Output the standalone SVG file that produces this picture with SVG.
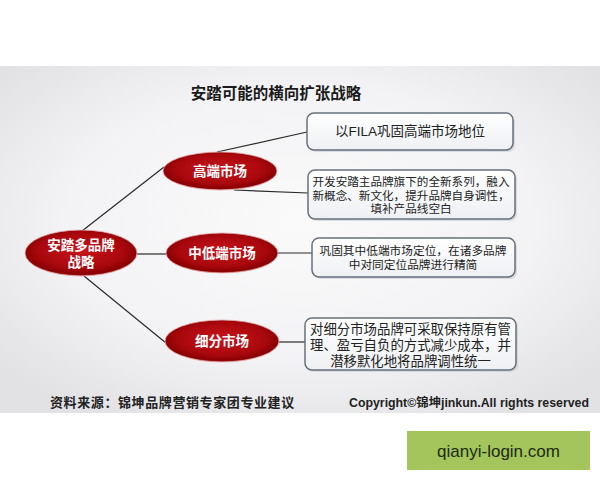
<svg xmlns="http://www.w3.org/2000/svg" width="600" height="480" viewBox="0 0 600 480">
<defs>
<radialGradient id="bg" cx="50%" cy="45%" r="65%">
<stop offset="0" stop-color="#fafafb"/>
<stop offset="0.6" stop-color="#f3f3f5"/>
<stop offset="1" stop-color="#e2e2e5"/>
</radialGradient>
<radialGradient id="red" cx="50%" cy="45%" r="55%">
<stop offset="0" stop-color="#c8141b"/>
<stop offset="0.7" stop-color="#a8080d"/>
<stop offset="0.93" stop-color="#880003"/>
<stop offset="1" stop-color="#b83a3a"/>
</radialGradient>
<linearGradient id="boxg" x1="0" y1="0" x2="0" y2="1">
<stop offset="0" stop-color="#ffffff"/>
<stop offset="1" stop-color="#eef0f3"/>
</linearGradient>
</defs>
<style>
.box{fill:url(#boxg);stroke:#66707c;stroke-width:1.5}
.sh{fill:#c9ccd2;opacity:0.6}
.ell{fill:url(#red);stroke:#e7b0b0;stroke-width:0.8}
.et{font-family:"Liberation Sans","Noto Sans CJK SC",sans-serif;font-weight:bold;fill:#ffffff;text-anchor:middle;font-size:13.5px}
.bt{font-family:"Liberation Sans","Noto Sans CJK SC",sans-serif;fill:#222222;text-anchor:middle}
.ln{stroke:#2b2b2b;stroke-width:1.2;fill:none}
</style>
<rect x="0" y="0" width="600" height="480" fill="#ffffff"/>
<rect x="0" y="66" width="600" height="347" fill="url(#bg)"/>
<text x="276" y="99" font-family="Noto Sans CJK SC, sans-serif" font-weight="bold" font-size="15.5" fill="#1a1a1a" text-anchor="middle">安踏可能的横向扩张战略</text>
<g id="connectors">
<line class="ln" x1="82" y1="231" x2="164" y2="167"/>
<line class="ln" x1="137" y1="254" x2="166" y2="254"/>
<line class="ln" x1="84" y1="276" x2="166" y2="343"/>
<line class="ln" x1="217" y1="152" x2="307" y2="132"/>
<line class="ln" x1="234" y1="190" x2="308" y2="193"/>
<line class="ln" x1="278" y1="253" x2="312" y2="253"/>
<line class="ln" x1="279" y1="342" x2="305" y2="342"/>
</g>
<g id="root">
<ellipse class="ell" cx="81" cy="253" rx="56" ry="23"/>
<text class="et" x="81" y="250">安踏多品牌<tspan x="81" dy="17">战略</tspan></text>
</g>
<g id="high">
<ellipse class="ell" cx="220" cy="171" rx="57" ry="19"/>
<text class="et" x="220" y="176">高端市场</text>
</g>
<g id="mid">
<ellipse class="ell" cx="222" cy="253" rx="56" ry="20"/>
<text class="et" x="222" y="258">中低端市场</text>
</g>
<g id="niche">
<ellipse class="ell" cx="222" cy="341" rx="57" ry="21"/>
<text class="et" x="222" y="346">细分市场</text>
</g>
<g id="box1">
<rect class="sh" x="309" y="115" width="206" height="37" rx="7"/>
<rect class="box" x="307" y="113" width="206" height="37" rx="7"/>
<text class="bt" x="410" y="136" font-size="13.5">以FILA巩固高端市场地位</text>
</g>
<g id="box2">
<rect class="sh" x="310" y="172" width="207" height="49" rx="7"/>
<rect class="box" x="308" y="170" width="207" height="49" rx="7"/>
<text class="bt" x="411" y="186" font-size="11.6">开发安踏主品牌旗下的全新系列，融入<tspan x="411" dy="13.5">新概念、新文化，提升品牌自身调性，</tspan><tspan x="411" dy="13.5">填补产品线空白</tspan></text>
</g>
<g id="box3">
<rect class="sh" x="314" y="240" width="203" height="39" rx="7"/>
<rect class="box" x="312" y="238" width="203" height="39" rx="7"/>
<text class="bt" x="413" y="254.5" font-size="11.7">巩固其中低端市场定位，在诸多品牌<tspan x="413" dy="14.5">中对同定位品牌进行精简</tspan></text>
</g>
<g id="box4">
<rect class="sh" x="307" y="320" width="211" height="52" rx="7"/>
<rect class="box" x="305" y="318" width="211" height="52" rx="7"/>
<text class="bt" x="410.5" y="334" font-size="13.4">对细分市场品牌可采取保持原有管<tspan x="410.5" dy="16">理、盈亏自负的方式减少成本，并</tspan><tspan x="410.5" dy="16">潜移默化地将品牌调性统一</tspan></text>
</g>
<text x="50" y="407" font-family="Noto Sans CJK SC, sans-serif" font-weight="bold" font-size="13" letter-spacing="0.6" fill="#222222">资料来源：锦坤品牌营销专家团专业建议</text>
<text x="349" y="407" font-family="Liberation Sans, Noto Sans CJK SC, sans-serif" font-weight="bold" font-size="12" fill="#222222" textLength="240" lengthAdjust="spacingAndGlyphs">Copyright©锦坤jinkun.All rights reserved</text>
<g id="badge">
<rect x="407" y="431" width="183" height="39" fill="#a3c55c"/>
<text x="498.5" y="457" font-family="Liberation Sans, Arial, sans-serif" font-size="17" fill="#1d2a12" text-anchor="middle">qianyi-login.com</text>
</g>
</svg>
